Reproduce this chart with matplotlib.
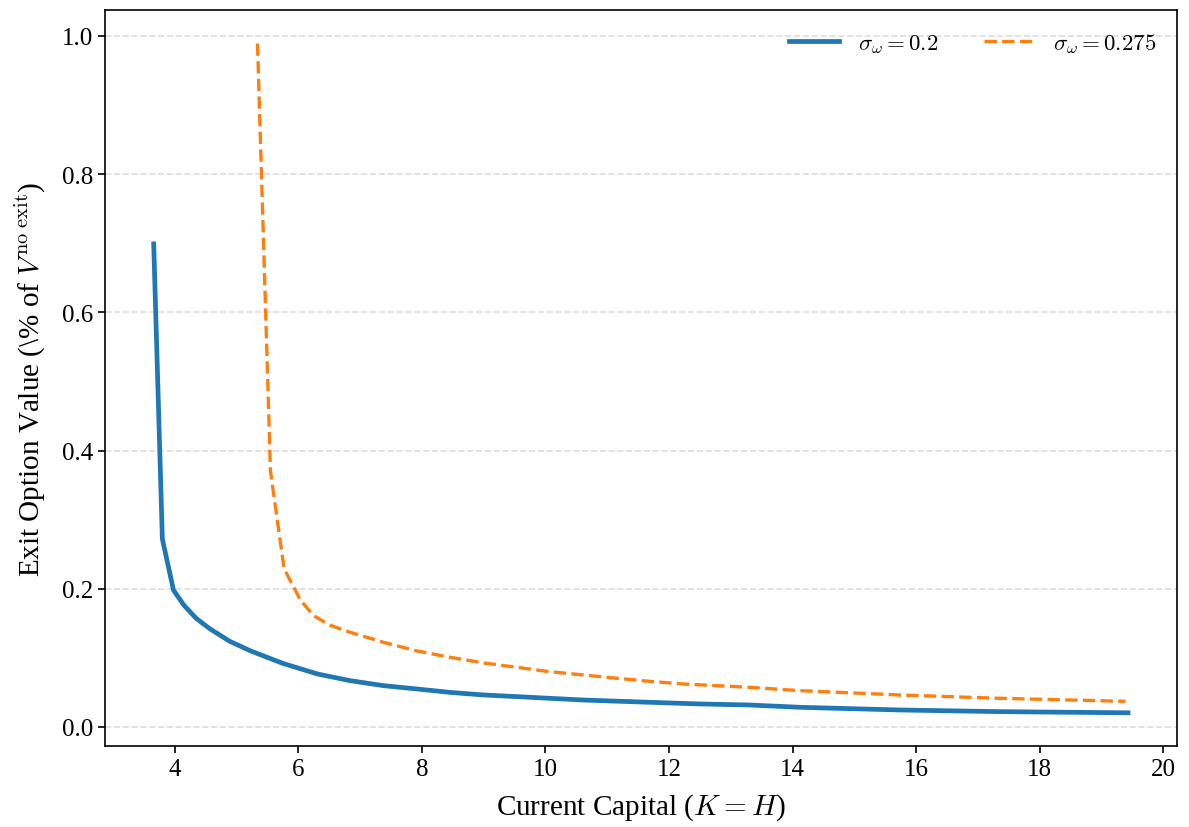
import matplotlib
matplotlib.use("Agg")
import matplotlib.pyplot as plt

# values
capital_low = [3.66, 3.80, 3.98, 4.15, 4.35, 4.57, 4.89, 5.23, 5.75, 6.31, 6.84, 7.38,
               7.92, 8.46, 9.00, 9.54, 10.61, 11.69, 12.50, 13.30, 14.11, 15.73, 17.34, 19.43]
value_low = [0.699, 0.272, 0.198, 0.176, 0.157, 0.142, 0.124, 0.110, 0.092, 0.0767, 0.067, 0.0598,
             0.055, 0.050, 0.0463, 0.0439, 0.039, 0.0357, 0.0333, 0.0318, 0.0285, 0.0246, 0.0222, 0.0205]

capital_high = [5.34, 5.55, 5.77, 6.04, 6.25, 6.52, 6.84, 7.38, 7.92, 8.46, 9.00, 9.54,
                10.07, 10.61, 11.15, 11.69, 12.23, 12.77, 13.30, 14.11, 15.73, 17.34, 19.39]
value_high = [0.989, 0.37, 0.229, 0.183, 0.161, 0.147, 0.137, 0.1225, 0.110, 0.1008, 0.0926, 0.0863,
              0.080, 0.0753, 0.0705, 0.066, 0.0622, 0.0598, 0.0574, 0.0526, 0.0463, 0.0415, 0.0371]

labels = [r"$\sigma_\omega = 0.2$", r"$\sigma_\omega = 0.275$"]

plt.rcParams['font.family'] = ['Liberation Serif', 'DejaVu Serif']
plt.rcParams['mathtext.fontset'] = 'cm'

fig, ax = plt.subplots(figsize=(11.89, 8.28), dpi=100)
fig.subplots_adjust(left=0.0883, right=0.9897, top=0.9867, bottom=0.0975)

ax.plot(capital_low, value_low, color='#1f77b4', lw=3.4, label=labels[0])
ax.plot(capital_high, value_high, color='#ff7f0e', lw=2.4, ls='--', label=labels[1])

ax.grid(axis='y', color='#d9d9d9', ls='--', lw=1.2, alpha=0.9)
ax.set_axisbelow(True)

ax.set_xticks([4, 6, 8, 10, 12, 14, 16, 18, 20])
ax.set_yticks([0.0, 0.2, 0.4, 0.6, 0.8, 1.0])
ax.tick_params(labelsize=18, width=1.2, length=5)
for s in ax.spines.values():
    s.set_linewidth(1.2)

ax.set_xlabel(r"Current Capital ($K = H$)", fontsize=21, labelpad=8)
ax.set_ylabel(r"Exit Option Value (\% of $V^{\mathrm{no\ exit}}$)", fontsize=21, labelpad=11)

ax.legend(loc='upper right', ncol=2, frameon=False, fontsize=16.5, handlelength=2.2)

fig.savefig("out.png", dpi=100)
